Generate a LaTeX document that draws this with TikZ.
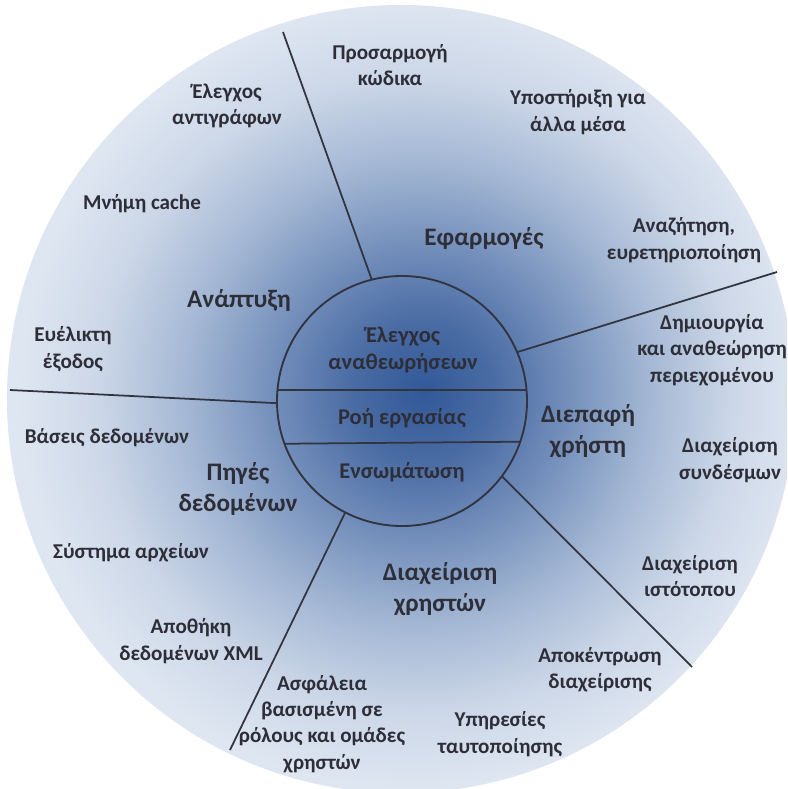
\documentclass[tikz,border=0pt]{standalone}
\usepackage{fontspec}
\setmainfont{Carlito}
\usepackage{xcolor}
\usepackage{tikz}
\usetikzlibrary{calc, shapes, positioning}

\definecolor{labelgrey}{RGB}{46,46,56}
\definecolor{linegrey}{RGB}{50,52,64}
\definecolor{hubcore}{RGB}{50,88,152}
\definecolor{hubdeep}{RGB}{74,108,164}
\definecolor{hubmid}{RGB}{112,140,185}
\definecolor{hubsoft}{RGB}{162,182,211}
\definecolor{hubpale}{RGB}{203,214,231}
\definecolor{hubrim}{RGB}{222,230,241}

\pgfdeclareradialshading{hubglow}{\pgfpoint{1.5bp}{0.5bp}}{color(0bp)=(hubcore); color(4.5bp)=(hubdeep); color(9bp)=(hubmid); color(14.5bp)=(hubsoft); color(20bp)=(hubpale); color(25bp)=(hubrim); color(50bp)=(hubrim)}

\newcommand{\leaffont}{\bfseries\fontsize{18}{22.5}\selectfont}
\newcommand{\areafont}{\bfseries\fontsize{21.5}{26}\selectfont}
\newcommand{\corefont}{\bfseries\fontsize{19.2}{23}\selectfont}

\tikzset{
    ringnode/.style = {draw=none, circle, inner sep=0em, outer sep=0pt, minimum size=23.64cm},
    hubnode/.style = {draw=linegrey, circle, line width=1.6pt, inner sep=0em, outer sep=0pt, minimum size=7.5cm},
    textnode/.style = {draw=none, fill=none, rectangle, inner sep=0em, text=labelgrey, font=\leaffont},
    areanode/.style = {textnode, font=\areafont},
    corenode/.style = {textnode, font=\corefont},
    divider/.style = {draw=linegrey, line width=1.5pt},
    every text node part/.style={align=center}
}

\begin{document}
\begin{tikzpicture}[x=0.03cm, y=-0.03cm]
    \useasboundingbox (0,0) rectangle (787,789);
    \fill [white] (0,0) rectangle (787,789);
    \clip (0,0) rectangle (787,789);

    \node [ringnode, name=rim, shade, shading=hubglow] at (401,399) {};
    \node [hubnode, name=hub] at (402,401) {};

    % chords of the hub
    \draw [divider] (hub.5) -- (hub.175);
    \draw [divider] (hub.-19.6) -- (hub.-160.4);

    % dividers between the areas
    \coordinate (topend) at (283,32);
    \coordinate (rightend) at (777,272);
    \coordinate (leftend) at (10,390);
    \coordinate (lowleftend) at (230,750);
    \coordinate (lowrightend) at (692,667);
    \draw [divider] (hub.104.5) -- (topend);
    \draw [divider] (hub.23) -- (rightend);
    \draw [divider] (hub.181.4) -- (leftend);
    \draw [divider] (hub.243.8) -- (lowleftend);
    \draw [divider] (hub.323.2) -- (lowrightend);

    \node [corenode, name=revisions] at (403,350) {Έλεγχος\\αναθεωρήσεων};
    \node [corenode, name=workflow] at (402,418) {Ροή εργασίας};
    \node [corenode, name=embed] at (402,472) {Ενσωμάτωση};

    \node [areanode, name=develop] at (239,300) {Ανάπτυξη};
    \node [areanode, name=apps] at (484,238) {Εφαρμογές};
    \node [areanode, name=ui] at (588,431) {Διεπαφή\\χρήστη};
    \node [areanode, name=users] at (440,589) {Διαχείριση\\χρηστών};
    \node [areanode, name=sources] at (238,489) {Πηγές\\δεδομένων};

    \node [textnode, name=adapt] at (390,65) {Προσαρμογή\\κώδικα};
    \node [textnode, name=media] at (578,112) {Υποστήριξη για\\άλλα μέσα};
    \node [textnode, name=search] at (684,240) {Αναζήτηση,\\ευρετηριοποίηση};
    \node [textnode, name=content] at (712,350) {Δημιουργία\\και αναθεώρηση\\περιεχομένου};
    \node [textnode, name=links] at (730,460) {Διαχείριση\\συνδέσμων};
    \node [textnode, name=website] at (690,576) {Διαχείριση\\ιστότοπου};
    \node [textnode, name=decentral] at (600,670) {Αποκέντρωση\\διαχείρισης};
    \node [textnode, name=auth] at (500,734) {Υπηρεσίες\\ταυτοποίησης};
    \node [textnode, name=roles] at (322,724) {Ασφάλεια\\βασισμένη σε\\ρόλους και ομάδες\\χρηστών};
    \node [textnode, name=xmlstore] at (191,641) {Αποθήκη\\δεδομένων XML};
    \node [textnode, name=filesys] at (131,553) {Σύστημα αρχείων};
    \node [textnode, name=databases] at (107,438) {Βάσεις δεδομένων};
    \node [textnode, name=output] at (73,349) {Ευέλικτη\\έξοδος};
    \node [textnode, name=cache] at (142,204) {Μνήμη cache};
    \node [textnode, name=copies] at (227,106) {Έλεγχος\\αντιγράφων};
\end{tikzpicture}
\end{document}
